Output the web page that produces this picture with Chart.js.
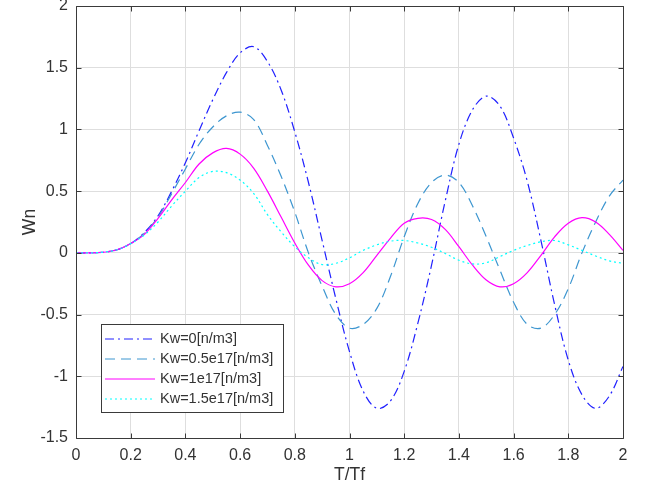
<!DOCTYPE html>
<html>
<head>
<meta charset="utf-8">
<title>Wn vs T/Tf</title>
<script src="https://cdn.jsdelivr.net/npm/chart.js@4.4.1/dist/chart.umd.min.js"></script>
<style>
  html, body { margin: 0; padding: 0; background: #fff; }
  #wrap { width: 647px; height: 493px; }
</style>
</head>
<body>
<div id="wrap"><canvas id="wnChart" width="647" height="493"></canvas></div>
<script>
// T/Tf sample points
const tRatio = [0, 0.05, 0.1, 0.15, 0.2, 0.25, 0.3, 0.35, 0.4, 0.45, 0.5, 0.55, 0.6, 0.65, 0.7, 0.75, 0.8, 0.85, 0.9, 0.95,
                1, 1.05, 1.1, 1.15, 1.2, 1.25, 1.3, 1.35, 1.4, 1.45, 1.5, 1.55, 1.6, 1.65, 1.7, 1.75, 1.8, 1.85, 1.9, 1.95, 2];

// Wn for each foundation stiffness
const wnKw0   = [0, 0, 0.005, 0.025, 0.075, 0.165, 0.30, 0.50, 0.73, 0.99, 1.24, 1.46, 1.62, 1.67, 1.55, 1.32, 0.98, 0.57, 0.10, -0.37,
                 -0.80, -1.12, -1.26, -1.20, -0.96, -0.57, -0.10, 0.42, 0.88, 1.16, 1.27, 1.19, 0.93, 0.58, 0.10, -0.42, -0.87, -1.15, -1.26, -1.16, -0.92];
const wnKw05  = [0, 0, 0.005, 0.025, 0.075, 0.16, 0.29, 0.48, 0.68, 0.88, 1.02, 1.11, 1.14, 1.08, 0.87, 0.62, 0.33, 0.0, -0.27, -0.50,
                 -0.61, -0.58, -0.45, -0.19, 0.13, 0.40, 0.57, 0.63, 0.57, 0.38, 0.13, -0.14, -0.40, -0.58, -0.61, -0.50, -0.29, 0.0, 0.25, 0.46, 0.59];
const wnKw1   = [0, 0, 0.005, 0.025, 0.075, 0.15, 0.28, 0.43, 0.57, 0.72, 0.81, 0.846, 0.80, 0.685, 0.50, 0.29, 0.08, -0.10, -0.225, -0.275,
                 -0.25, -0.16, -0.02, 0.12, 0.24, 0.28, 0.27, 0.19, 0.05, -0.10, -0.22, -0.275, -0.25, -0.16, -0.02, 0.13, 0.24, 0.285, 0.25, 0.15, 0.02];
const wnKw15  = [0, 0, 0.005, 0.025, 0.075, 0.145, 0.25, 0.38, 0.50, 0.61, 0.66, 0.65, 0.59, 0.48, 0.31, 0.17, 0.05, -0.04, -0.095, -0.085,
                 -0.04, 0.02, 0.065, 0.095, 0.10, 0.08, 0.045, -0.005, -0.06, -0.09, -0.08, -0.03, 0.02, 0.06, 0.09, 0.10, 0.065, 0.02, -0.025, -0.065, -0.085];

const seriesLabels = ['Kw=0[n/m3]', 'Kw=0.5e17[n/m3]', 'Kw=1e17[n/m3]', 'Kw=1.5e17[n/m3]'];
const xTicks = [0, 0.2, 0.4, 0.6, 0.8, 1, 1.2, 1.4, 1.6, 1.8, 2];
const yTicks = [-1.5, -1, -0.5, 0, 0.5, 1, 1.5, 2];

const FONT = "'Liberation Sans', Arial, Helvetica, sans-serif";
const axisColor = '#3a3a3a';
const textColor = '#333';

function toPoints(ys) {
    return tRatio.map((t, i) => ({ x: t, y: ys[i] }));
}

// box around the axes with inward tick marks on all four sides
const axesBox = {
    id: 'axesBox',
    afterDatasetsDraw(chart) {
        const { ctx, chartArea: a, scales } = chart;
        const L = Math.round(a.left) + 0.5, R = Math.round(a.right) + 0.5;
        const T = Math.round(a.top) + 0.5, B = Math.round(a.bottom) + 0.5;
        const len = 5;
        ctx.save();
        ctx.strokeStyle = axisColor;
        ctx.lineWidth = 1;
        ctx.beginPath();
        ctx.rect(L, T, R - L, B - T);
        xTicks.forEach(v => {
            const px = Math.round(scales.x.getPixelForValue(v)) + 0.5;
            ctx.moveTo(px, B); ctx.lineTo(px, B - len);
            ctx.moveTo(px, T); ctx.lineTo(px, T + len);
        });
        yTicks.forEach(v => {
            const py = Math.round(scales.y.getPixelForValue(v)) + 0.5;
            ctx.moveTo(L, py); ctx.lineTo(L + len, py);
            ctx.moveTo(R, py); ctx.lineTo(R - len, py);
        });
        ctx.stroke();
        ctx.restore();
    }
};

// legend box in the lower left of the plot
const boxLegend = {
    id: 'boxLegend',
    afterDraw(chart, args, opts) {
        const ctx = chart.ctx;
        ctx.save();
        ctx.fillStyle = '#fff';
        ctx.fillRect(opts.x, opts.y, opts.w, opts.h);
        ctx.strokeStyle = axisColor;
        ctx.lineWidth = 1;
        ctx.setLineDash([]);
        ctx.strokeRect(opts.x + 0.5, opts.y + 0.5, opts.w, opts.h);
        ctx.font = opts.fontSize + 'px ' + FONT;
        ctx.textBaseline = 'middle';
        ctx.textAlign = 'left';
        chart.data.datasets.forEach((ds, i) => {
            const y = opts.y + opts.firstRow + i * opts.rowGap;
            ctx.beginPath();
            ctx.setLineDash(ds.borderDash || []);
            ctx.strokeStyle = ds.borderColor;
            ctx.lineWidth = ds.borderWidth;
            ctx.moveTo(opts.x + 4, y);
            ctx.lineTo(opts.x + 4 + opts.sample, y);
            ctx.stroke();
            ctx.setLineDash([]);
            ctx.fillStyle = textColor;
            ctx.fillText(ds.label, opts.x + 9 + opts.sample, y);
        });
        ctx.restore();
    }
};

const ctx = document.getElementById('wnChart').getContext('2d');
const wnChart = new Chart(ctx, {
    type: 'line',
    data: {
        datasets: [
            { label: seriesLabels[0], data: toPoints(wnKw0), borderColor: '#2020ff', borderDash: [9, 4, 2, 4], order: 3 },
            { label: seriesLabels[1], data: toPoints(wnKw05), borderColor: '#3d96d0', borderDash: [10, 6], order: 2 },
            { label: seriesLabels[2], data: toPoints(wnKw1), borderColor: '#ff00ff', borderDash: [], order: 1 },
            { label: seriesLabels[3], data: toPoints(wnKw15), borderColor: '#00ffff', borderDash: [2, 3], order: 0 }
        ]
    },
    options: {
        responsive: false,
        animation: false,
        events: [],
        layout: { padding: { left: 0, top: 6, right: 24, bottom: 0 } },
        elements: {
            point: { radius: 0 },
            line: { tension: 0.35, borderWidth: 1.2, fill: false }
        },
        plugins: {
            legend: { display: false },
            tooltip: { enabled: false },
            boxLegend: { x: 101, y: 324, w: 182, h: 88, firstRow: 15, rowGap: 20, sample: 50, fontSize: 14.5 }
        },
        scales: {
            x: {
                type: 'linear',
                min: 0,
                max: 2,
                afterBuildTicks: s => { s.ticks = xTicks.map(v => ({ value: v })); },
                afterFit: s => { s.height = 55; s.paddingLeft = 0; s.paddingRight = 0; },
                ticks: { color: textColor, font: { family: FONT, size: 16 }, padding: 8, maxRotation: 0, autoSkip: false,
                         callback: v => String(v) },
                grid: { color: '#dedede', drawTicks: false },
                border: { display: false },
                title: { display: true, text: 'T/Tf', color: textColor, font: { family: FONT, size: 17.5 },
                         padding: { top: 0, bottom: 7 } }
            },
            y: {
                type: 'linear',
                min: -1.5,
                max: 2,
                afterBuildTicks: s => { s.ticks = yTicks.map(v => ({ value: v })); },
                afterFit: s => { s.width = 76; s.paddingTop = 0; s.paddingBottom = 0; },
                ticks: { color: textColor, font: { family: FONT, size: 16 }, padding: 8, autoSkip: false,
                         callback: v => String(v) },
                grid: { color: '#dedede', drawTicks: false },
                border: { display: false },
                title: { display: true, text: 'Wn', color: textColor, font: { family: FONT, size: 17.5 },
                         padding: { top: 20, bottom: 0 } }
            }
        }
    },
    plugins: [axesBox, boxLegend]
});
</script>
</body>
</html>
